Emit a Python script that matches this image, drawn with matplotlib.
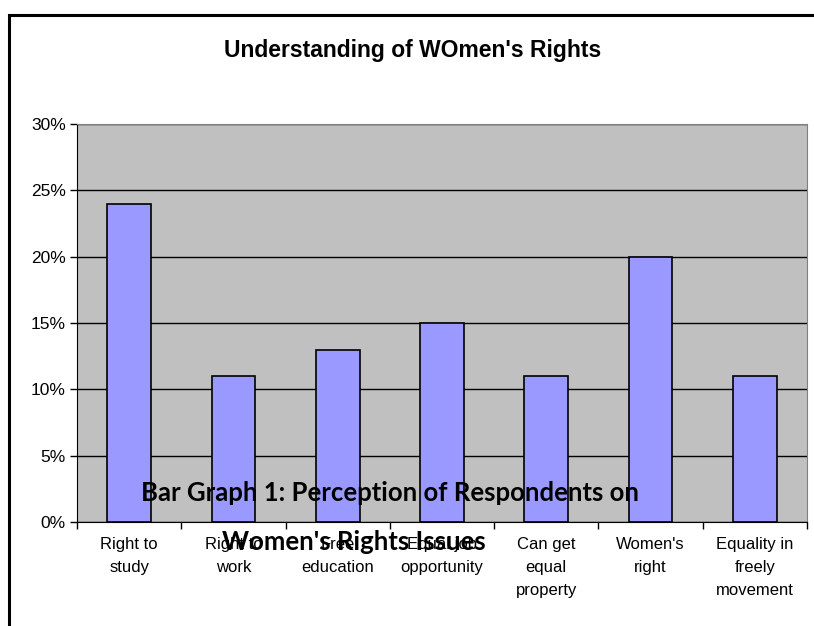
import numpy as np
import matplotlib.pyplot as plt
from matplotlib.patches import Rectangle
from matplotlib.ticker import PercentFormatter, FixedLocator

categories = ["Right to\nstudy", "Right to\nwork", "Free\neducation",
              "Equal job\nopportunity", "Can get\nequal\nproperty",
              "Women's\nright", "Equality in\nfreely\nmovement"]
values = [24, 11, 13, 15, 11, 20, 11]
y_ticks = [0, 5, 10, 15, 20, 25, 30]

W, H = 814, 626
fig = plt.figure(figsize=(W / 100, H / 100), dpi=100)

# outer chart border (right/bottom edges run off the image)
fig.patches.append(Rectangle((9 / W, -0.1), 1.2, (626 - 15) / H + 0.1,
                             transform=fig.transFigure, fill=False,
                             edgecolor='black', linewidth=2.2, zorder=0))

l, r, t, b = 77, 807, 124, 522
ax = fig.add_axes([l / W, (H - b) / H, (r - l) / W, (b - t) / H])
ax.set_facecolor('#C0C0C0')

x = np.arange(len(categories))
ax.bar(x, values, width=0.42, color='#9999FF', edgecolor='black',
       linewidth=1.2, zorder=3)

ax.set_xlim(-0.5, len(categories) - 0.5)
ax.set_ylim(0, 30)
ax.set_yticks(y_ticks)
ax.yaxis.set_major_formatter(PercentFormatter(decimals=0))
ax.grid(axis='y', color='black', linewidth=1, zorder=1)
ax.set_axisbelow(True)

ax.set_xticks(x)
ax.set_xticklabels(categories, fontsize=12, family='Liberation Sans',
                   linespacing=1.65, va='top')
ax.xaxis.set_minor_locator(FixedLocator(np.arange(-0.5, len(categories), 1)))
ax.tick_params(axis='x', which='major', length=0, pad=11)
ax.tick_params(axis='x', which='minor', length=5, width=1, direction='out')
ax.tick_params(axis='y', length=5, width=1, direction='out', pad=3)
for lab in ax.get_yticklabels():
    lab.set_fontsize(12.5)
    lab.set_family('Liberation Sans')

for side in ['top', 'right']:
    ax.spines[side].set_color('#808080')
for side in ['left', 'bottom']:
    ax.spines[side].set_color('black')

fig.text(413 / W, 1 - 51 / H, "Understanding of WOmen's Rights",
         ha='center', va='center', fontsize=16.5, fontweight='bold',
         family='Liberation Sans')

# caption overlaid on the chart
fig.text(390 / W, 1 - 501 / H, "Bar Graph 1: Perception of Respondents on",
         ha='center', va='baseline', fontsize=18.5, fontweight='bold',
         family='Lato', zorder=5)
fig.text(354 / W, 1 - 550 / H, "Women's Rights Issues",
         ha='center', va='baseline', fontsize=18.5, fontweight='bold',
         family='Lato', zorder=5)

fig.savefig('out.png', dpi=100)
